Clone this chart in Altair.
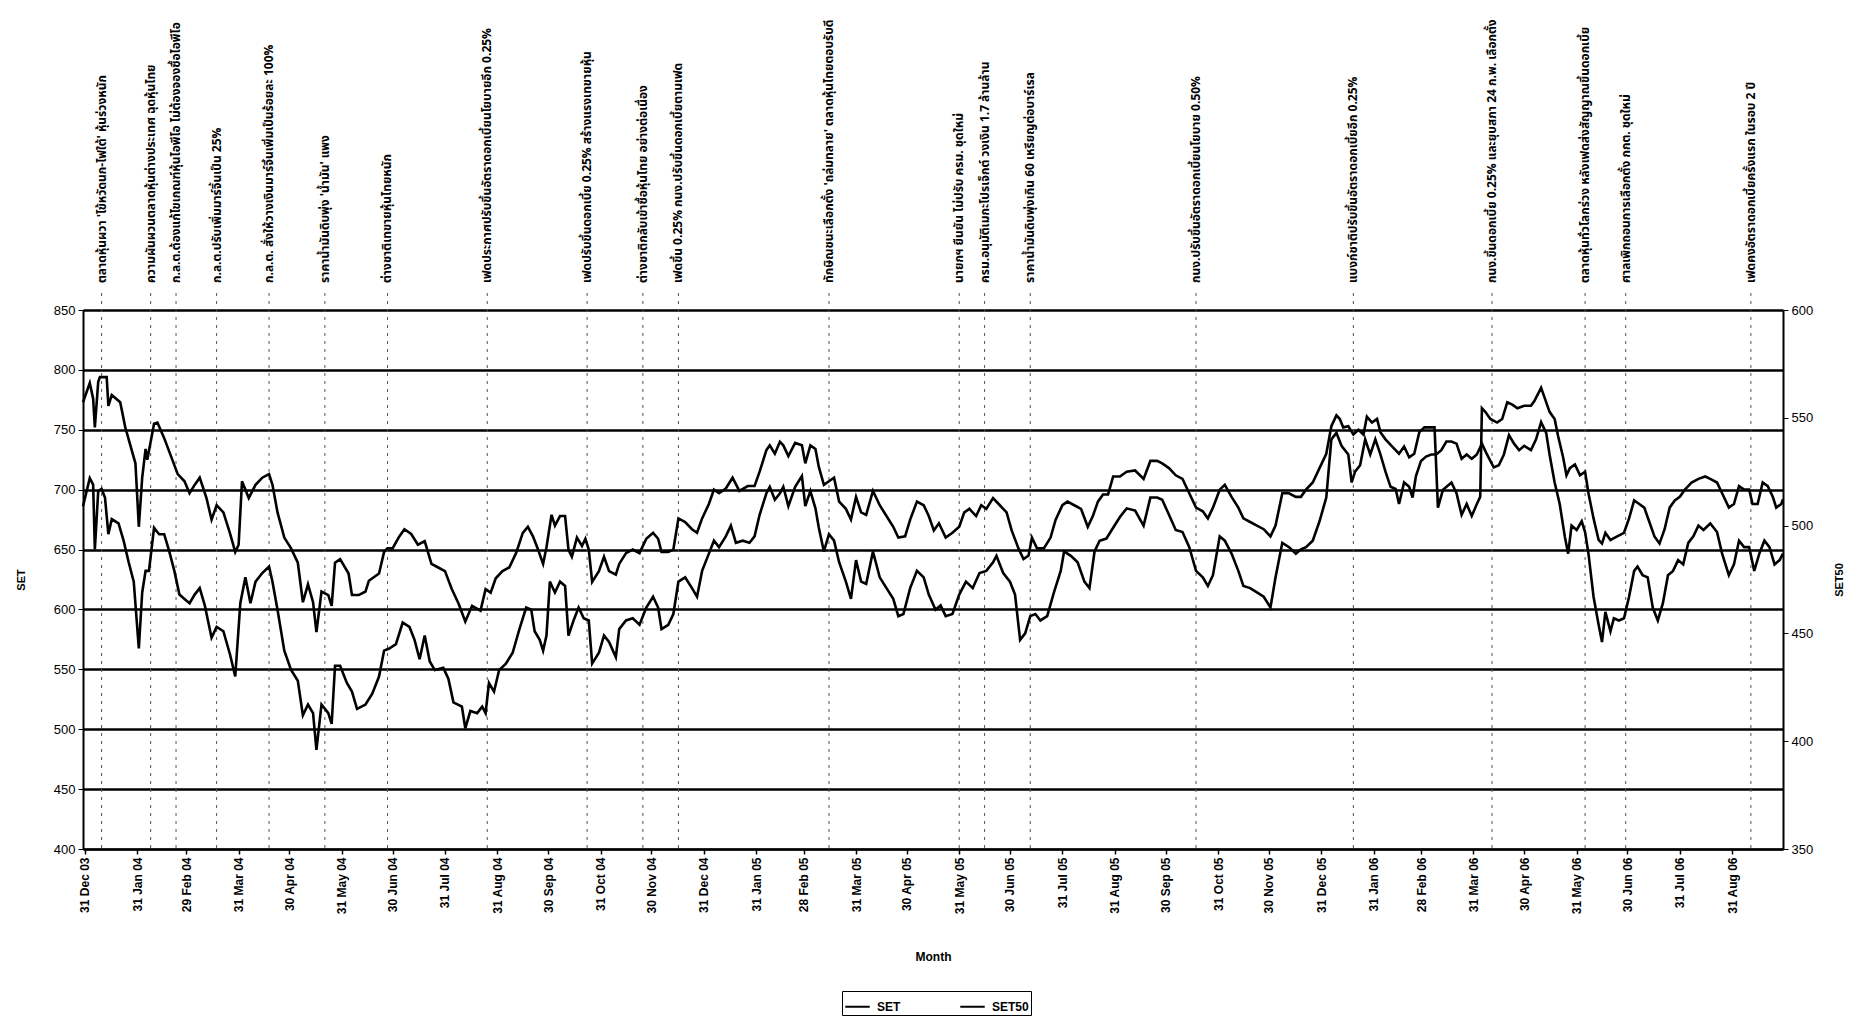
import altair as alt
import pandas as pd

# ---------------- data ----------------
# trading-day positions are given as days after 2003-12-30 (first point of the chart)
set_days = [0,4,6,7,9,10,14,15,17,22,25,28,31,33,35,37,38,42,44,48,52,56,60,63,66,69,73,76,79,83,87,90,92,94,98,102,106,110,112,115,119,123,127,130,133,136,138,141,145,147,149,152,157,159,163,167,169,175,178,180,183,187,190,194,198,202,
            206,210,214,218,222,226,230,235,238,241,244,248,252,256,260,263,266,269,272,274,277,279,282,285,287,289,292,295,297,299,301,305,308,311,315,317,321,325,329,333,337,340,342,346,349,352,356,360,363,366,370,373,376,380,384,388,393,397,400,404,406,409,412,
            414,417,421,425,427,430,433,435,438,441,444,447,451,454,457,460,463,467,471,475,479,482,486,489,493,497,500,503,506,510,514,518,521,524,528,531,534,538,542,546,549,553,556,559,561,564,568,572,575,579,582,586,590,594,597,600,603,606,609,613,617,
            622,627,631,635,638,642,646,650,654,658,662,665,668,672,675,679,683,686,690,694,698,702,705,709,713,717,720,723,727,731,735,738,741,743,745,748,751,754,757,759,762,765,767,770,774,778,781,784,787,790,793,796,799,801,804,809,812,815,818,821,824,826,827,
            829,832,836,839,842,845,848,852,856,858,862,864,867,870,872,875,877,879,882,885,888,890,893,896,898,900,903,907,911,914,917,920,923,926,929,932,935,938,941,944,947,951,955,959,962,966,969,973,976,979,982,985,987,990,993,996,999,1001,1004,1005]
set_values = [773,789,776,752,790,794,794,770,779,773,752,737,722,669,710,734,725,755,756,743,728,713,707,697,704,710,693,675,687,681,663,648,654,707,693,704,710,713,704,681,660,651,639,606,621,606,581,615,612,603,639,642,630,612,612,615,624,630,648,651,651,661,667,663,654,657,
              638,635,632,617,605,590,603,599,617,614,626,632,635,647,664,669,661,650,638,652,679,670,678,678,650,644,660,653,659,650,623,632,644,632,629,638,647,650,647,659,664,659,648,648,650,676,673,667,664,676,688,700,697,701,710,699,703,703,715,733,737,730,740,
              737,728,739,737,722,737,734,719,704,707,710,690,684,675,694,681,679,699,687,678,669,660,661,675,690,687,678,666,672,660,664,669,681,684,678,687,684,693,687,681,666,651,642,645,660,651,651,660,675,687,690,687,684,669,678,690,696,696,711,711,715,
              716,709,724,724,722,718,712,709,697,685,682,676,685,700,704,694,685,676,673,670,667,661,670,697,697,694,694,700,706,718,730,753,762,759,752,753,746,750,746,761,756,759,748,742,736,730,736,727,730,748,752,752,752,685,700,706,697,679,688,678,688,694,768,
              765,759,756,759,773,771,768,770,770,774,785,777,765,759,745,727,712,718,721,712,715,697,676,658,655,664,658,661,664,676,691,688,685,673,661,655,667,685,691,694,700,706,709,711,709,706,697,685,688,703,700,700,688,688,706,703,694,685,688,692]

set50_days = [0,4,6,7,9,11,13,15,17,21,24,27,30,33,35,37,39,42,45,48,51,54,57,60,63,66,69,72,76,79,83,87,90,93,96,99,102,106,110,112,115,119,123,127,130,133,136,138,141,145,147,149,152,156,159,162,167,171,175,178,181,185,189,193,196,199,202,
              205,208,213,216,219,224,226,229,233,236,238,240,243,246,250,254,258,262,265,267,270,272,274,276,279,282,285,287,290,293,296,299,301,305,308,311,315,317,321,325,329,333,337,340,342,346,349,352,356,360,363,366,370,373,376,380,383,386,390,394,397,400,404,406,409,412,
              414,417,421,425,427,430,433,435,438,441,444,447,451,454,457,460,463,467,471,475,479,482,485,489,493,497,500,504,507,510,514,518,522,526,530,534,538,540,544,548,551,554,557,560,563,566,570,574,578,580,584,588,592,595,598,601,605,609,613,617,
              622,627,631,635,638,642,646,650,654,658,662,665,668,672,675,679,683,686,690,694,698,702,705,709,713,717,720,723,727,731,735,738,741,744,748,750,752,755,758,761,764,767,770,773,776,778,781,784,786,788,791,794,797,800,803,806,809,812,815,818,821,824,827,
              830,834,837,840,843,846,849,852,856,859,862,865,867,870,873,876,878,880,883,886,888,890,893,896,898,900,903,905,908,911,914,917,919,922,925,928,931,934,937,940,943,946,949,952,955,958,962,966,969,973,976,979,982,985,988,991,994,997,1000,1003,1005]
set50_values = [509,522,519,489,516,517,513,496,503,501,493,483,474,443,469,479,479,499,496,496,488,479,468,466,464,468,471,463,448,453,451,440,430,464,476,464,474,478,481,474,461,442,433,428,412,417,413,396,417,413,408,435,435,427,423,415,417,422,430,442,443,445,455,453,447,438,449,
                437,433,434,429,418,416,406,414,413,416,413,427,423,433,436,441,452,462,461,451,447,442,449,474,469,474,472,449,456,462,457,456,436,441,449,446,439,452,456,457,454,462,467,462,452,454,459,474,476,471,467,479,487,493,490,495,500,492,493,492,495,505,515,518,512,515,
                518,509,518,523,509,516,508,499,488,496,493,483,474,466,484,474,473,488,476,471,466,458,459,471,479,476,468,461,463,458,459,468,474,471,478,479,483,486,478,474,468,447,450,458,459,456,458,469,479,488,486,483,474,471,488,493,494,499,504,508,
                507,500,513,513,512,505,498,497,490,479,476,472,477,495,493,487,479,472,471,469,467,462,476,492,490,487,489,490,493,502,513,540,543,537,533,520,525,528,540,533,540,533,525,518,517,510,520,518,513,523,530,532,533,533,535,539,539,538,531,533,531,533,538,
                533,527,528,533,542,538,535,537,535,540,548,543,533,520,510,495,487,500,498,502,497,487,467,454,446,460,451,457,456,457,467,479,481,477,476,462,456,464,477,479,484,482,492,495,500,498,501,497,487,477,482,493,490,490,479,487,493,490,482,484,487]

# event annotations (date of the dashed line, text)
event_dates = ["2004-01-10", "2004-02-08", "2004-02-23", "2004-03-18", "2004-04-18", "2004-05-21",
               "2004-06-27", "2004-08-25", "2004-10-23", "2004-11-25", "2004-12-16", "2005-03-15",
               "2005-05-31", "2005-06-15", "2005-07-12", "2005-10-18", "2006-01-19", "2006-04-11",
               "2006-06-05", "2006-06-29", "2006-09-11"]
event_texts = [
    "ตลาดหุ้นผวา 'ไข้หวัดนก-ไฟใต้' หุ้นร่วงหนัก",
    "ความผันผวนตลาดหุ้นต่างประเทศ ฉุดหุ้นไทย",
    "ก.ล.ต.ต้องแก้ไขเกณฑ์หุ้นไอพีโอ ไม่ต้องจองซื้อไอพีโอ",
    "ก.ล.ต.ปรับเพิ่มมาร์จิ้นเป็น 25%",
    "ก.ล.ต. สั่งให้วางเงินมาร์จิ้นเพิ่มเป็นร้อยละ 100%",
    "ราคาน้ำมันดิบพุ่ง 'น้ำมัน' แพง",
    "ต่างชาติเทขายหุ้นไทยหนัก",
    "เฟดประกาศปรับขึ้นอัตราดอกเบี้ยนโยบายอีก 0.25%",
    "เฟดปรับขึ้นดอกเบี้ย 0.25% สร้างแรงเทขายหุ้น",
    "ต่างชาติกลับเข้าซื้อหุ้นไทย อย่างต่อเนื่อง",
    "เฟดขึ้น 0.25% กนง.ปรับขึ้นดอกเบี้ยตามเฟด",
    "ทักษิณชนะเลือกตั้ง 'ถล่มทลาย' ตลาดหุ้นไทยตอบรับดี",
    "นายกฯ ยืนยัน ไม่ปรับ ครม. ชุดใหม่",
    "ครม.อนุมัติเมกะโปรเจ็กต์ วงเงิน 1.7 ล้านล้าน",
    "ราคาน้ำมันดิบพุ่งเกิน 60 เหรียญต่อบาร์เรล",
    "กนง.ปรับขึ้นอัตราดอกเบี้ยนโยบาย 0.50%",
    "แบงก์ชาติปรับขึ้นอัตราดอกเบี้ยอีก 0.25%",
    "กนง.ขึ้นดอกเบี้ย 0.25% และยุบสภา 24 ก.พ. เลือกตั้ง",
    "ตลาดหุ้นทั่วโลกร่วง หลังเฟดส่งสัญญาณขึ้นดอกเบี้ย",
    "ศาลเพิกถอนการเลือกตั้ง กกต. ชุดใหม่",
    "เฟดคงอัตราดอกเบี้ยครั้งแรก ในรอบ 2 ปี",
]

month_ticks = ["2003-12-31", "2004-01-31", "2004-02-29", "2004-03-31", "2004-04-30", "2004-05-31",
               "2004-06-30", "2004-07-31", "2004-08-31", "2004-09-30", "2004-10-31", "2004-11-30",
               "2004-12-31", "2005-01-31", "2005-02-28", "2005-03-31", "2005-04-30", "2005-05-31",
               "2005-06-30", "2005-07-31", "2005-08-31", "2005-09-30", "2005-10-31", "2005-11-30",
               "2005-12-31", "2006-01-31", "2006-02-28", "2006-03-31", "2006-04-30", "2006-05-31",
               "2006-06-30", "2006-07-31", "2006-08-31"]
set_ticks = [400, 450, 500, 550, 600, 650, 700, 750, 800, 850]
set50_ticks = [350, 400, 450, 500, 550, 600]

# ---------------- build tables ----------------
START = pd.Timestamp("2003-12-30")


def to_dates(days):
    return [(START + pd.Timedelta(days=int(d))).strftime("%Y-%m-%d") for d in days]


def dt(s):
    return alt.DateTime(year=int(s[:4]), month=int(s[5:7]), date=int(s[8:10]), utc=True)


set_df = pd.DataFrame({"date": to_dates(set_days), "value": set_values, "series": "SET"})
set50_df = pd.DataFrame({"date": to_dates(set50_days), "value": set50_values, "series": "SET50"})
ev_df = pd.DataFrame({"date": event_dates, "label": event_texts})

W, H = 1700, 539
FONT = "Liberation Sans"
THAI = "Noto Sans Thai, Noto Sans Thai UI, Noto Sans, DejaVu Sans"

x_scale = alt.Scale(type="utc", domain=[dt("2003-12-30"), dt("2006-09-30")], nice=False)

x_axis = alt.Axis(
    values=[dt(s) for s in month_ticks], format="%d %b %y", formatType="time", labelAngle=270,
    labelFont=FONT, labelFontSize=12, labelFontWeight="bold", labelColor="black",
    labelPadding=3, tickSize=5, tickColor="black", tickWidth=1.5, labelOverlap=False,
    domainColor="black", domainWidth=2, grid=False,
    title="Month", titleFont=FONT, titleFontSize=12, titleFontWeight="bold",
    titleColor="black", titleY=102, titleBaseline="top",
)
X = alt.X("date:T", scale=x_scale, axis=x_axis)

color = alt.Color(
    "series:N",
    scale=alt.Scale(domain=["SET", "SET50"], range=["black", "black"]),
    legend=alt.Legend(
        orient="none", legendX=759, legendY=681, direction="horizontal", title=None,
        symbolType="stroke", symbolStrokeWidth=2, symbolSize=600,
        labelFont=FONT, labelFontSize=12, labelFontWeight="bold", labelColor="black",
        strokeColor="black", padding=2, columnPadding=55, symbolOffset=0, labelOffset=6,
    ),
)

rules = alt.Chart(ev_df).mark_rule(
    strokeDash=[3, 5], color="#555555", strokeWidth=1
).encode(
    x=X,
    y=alt.value(-17), y2=alt.value(H),
)

texts = alt.Chart(ev_df).mark_text(
    angle=270, align="left", baseline="middle", fontSize=12, fontWeight="bold",
    font=THAI, color="black",
).encode(
    x=X,
    y=alt.value(-27),
    text="label:N",
)

set_line = alt.Chart(set_df).mark_line(strokeWidth=2.6, strokeJoin="miter").encode(
    x=X,
    y=alt.Y(
        "value:Q", scale=alt.Scale(domain=[400, 850], nice=False, zero=False),
        axis=alt.Axis(
            values=set_ticks, grid=True, gridColor="black", gridWidth=2.5,
            domainColor="black", domainWidth=2, tickColor="black", tickSize=5,
            labelFont=FONT, labelFontSize=13, labelColor="black", labelPadding=3,
            title="SET", titleFont=FONT, titleFontSize=11, titleFontWeight="bold",
            titleColor="black", titleX=-62, titleY=H / 2, titleBaseline="middle",
        ),
    ),
    color=color,
)

set50_line = alt.Chart(set50_df).mark_line(strokeWidth=2.6, strokeJoin="miter").encode(
    x=X,
    y=alt.Y(
        "value:Q", scale=alt.Scale(domain=[350, 600], nice=False, zero=False),
        axis=alt.Axis(
            orient="right", values=set50_ticks, grid=False,
            domainColor="black", domainWidth=2, tickColor="black", tickSize=5,
            labelFont=FONT, labelFontSize=13, labelColor="black", labelPadding=3,
            title="SET50", titleFont=FONT, titleFontSize=11, titleFontWeight="bold",
            titleColor="black", titleX=56, titleY=H / 2, titleBaseline="middle",
            titleAngle=270,
        ),
    ),
    color=color,
)

chart = alt.layer(rules, texts, set_line, set50_line).resolve_scale(
    y="independent"
).properties(
    width=W, height=H,
    autosize=alt.AutoSizeParams(type="none"),
    padding={"left": 75, "top": 302, "right": 63, "bottom": 168},
    background="white",
).configure_view(stroke=None)

chart.save("out.html", embed_options={"renderer": "svg", "actions": False})
